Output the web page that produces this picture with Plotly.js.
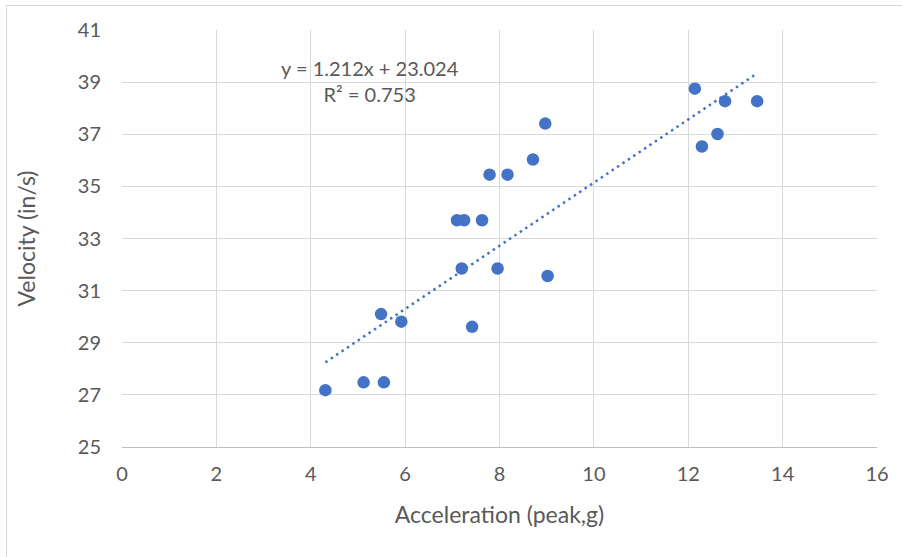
<!DOCTYPE html>
<html>
<head>
<meta charset="utf-8">
<script src="https://cdn.plot.ly/plotly-3.0.1.min.js"></script>
<style>
html,body{margin:0;padding:0;background:#fff;}
#wrap{position:relative;width:902px;height:557px;overflow:hidden;}
#chart{width:902px;height:557px;}
#frame{position:absolute;left:6px;top:5px;width:1000px;height:1000px;border-left:1px solid #d9d9d9;border-top:1px solid #d9d9d9;pointer-events:none;}
</style>
</head>
<body>
<div id="wrap"><div id="chart"></div><div id="frame"></div></div>
<script>
// Data
const acceleration = [4.31, 5.12, 5.55, 5.49, 5.92, 7.42, 7.20, 7.96, 9.02, 7.10, 7.25, 7.63, 7.79, 8.17, 8.71, 8.97, 12.14, 12.29, 12.62, 12.78, 13.46];
const velocity     = [27.18, 27.48, 27.48, 30.10, 29.81, 29.61, 31.85, 31.85, 31.56, 33.70, 33.70, 33.70, 35.45, 35.45, 36.03, 37.41, 38.75, 36.53, 37.01, 38.27, 38.27];
const trendSlope = 1.212;
const trendIntercept = 23.024;
const rSquared = 0.753;
const xTicks = [0, 2, 4, 6, 8, 10, 12, 14, 16];
const yTicks = [25, 27, 29, 31, 33, 35, 37, 39, 41];

const xMin = Math.min(...acceleration), xMax = Math.max(...acceleration);
const trendX = [xMin, xMax];
const trendY = trendX.map(v => trendSlope * v + trendIntercept);

const blue = '#4472C4';
const grey = '#595959';
const fontFam = 'Lato, "Open Sans", sans-serif';

const data = [
  {x: trendX, y: trendY, type: 'scatter', mode: 'lines',
   line: {color: blue, width: 2.5, dash: '2.5px,4px'}, hoverinfo: 'skip', showlegend: false},
  {x: acceleration, y: velocity, type: 'scatter', mode: 'markers',
   marker: {color: blue, size: 12.5}, showlegend: false}
];

const layout = {
  width: 902, height: 557,
  margin: {l: 122, r: 25, t: 30, b: 110},
  paper_bgcolor: '#fff', plot_bgcolor: '#fff',
  font: {family: fontFam, color: grey, size: 20},
  xaxis: {
    range: [0, 16], tickvals: xTicks, ticktext: xTicks.map(String),
    showgrid: true, gridcolor: '#d9d9d9', gridwidth: 1,
    zeroline: false, showline: true, linecolor: '#bfbfbf', linewidth: 1.3,
    ticks: '', ticklabelstandoff: 9, tickfont: {size: 20, color: grey, family: fontFam},
    title: {text: 'Acceleration (peak,g)', font: {size: 23, color: grey, family: fontFam}, standoff: 22},
    automargin: false, fixedrange: true
  },
  yaxis: {
    range: [25, 41], tickvals: yTicks, ticktext: yTicks.map(String),
    showgrid: true, gridcolor: '#d9d9d9', gridwidth: 1,
    zeroline: false, showline: false,
    ticks: '', ticklabelstandoff: 20, tickfont: {size: 20, color: grey, family: fontFam},
    title: {text: 'Velocity (in/s)', font: {size: 23, color: grey, family: fontFam}, standoff: 35},
    automargin: false, fixedrange: true
  },
  annotations: [{
    xref: 'x', yref: 'y', x: 5.26, y: 39.04,
    text: 'y = ' + trendSlope.toFixed(3) + 'x + ' + trendIntercept.toFixed(3) + '<br>R² = ' + rSquared.toFixed(3),
    showarrow: false, align: 'center', xanchor: 'center', yanchor: 'middle',
    font: {size: 20, color: grey, family: fontFam}
  }]
};

Plotly.newPlot('chart', data, layout, {displayModeBar: false, staticPlot: true});
</script>
</body>
</html>
